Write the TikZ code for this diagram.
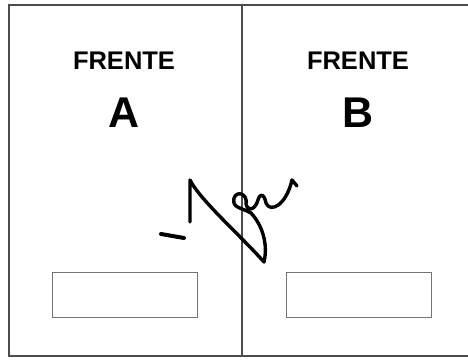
\documentclass[tikz,border=0pt]{standalone}
\usepackage{fontspec}
\setmainfont{Liberation Sans}
\begin{document}
\begin{tikzpicture}[x=1pt,y=-1pt,
  frame/.style={draw=black!70,line width=2.6pt},
  divider/.style={draw=black!70,line width=1.8pt},
  slot/.style={draw=black!55,line width=1.7pt},
  head/.style={font=\bfseries\fontsize{25.5}{25.5}\selectfont,inner sep=0pt,anchor=base},
  letter/.style={font=\bfseries\fontsize{43}{43}\selectfont,inner sep=0pt,anchor=base},
  sig/.style={draw=black,line width=3.4pt,line cap=round,line join=round}]
\useasboundingbox (0,0) rectangle (468,361);
\fill[white] (0,0) rectangle (468,361);
% outer frame (right side cropped)
\coordinate (tl) at (9,5);
\coordinate (tr) at (470,5);
\coordinate (bl) at (9,356);
\coordinate (br) at (470,356);
\draw[frame] (tr) -- (tl) -- (bl) -- (br);
\coordinate (mt) at (242,5);
\coordinate (mb) at (242,356);
\draw[divider] (mt) -- (mb);
% labels
\node[head] (fa) at (124,70) {FRENTE};
\node[letter] (la) at (124,127) {A};
\node[head] (fb) at (358,70) {FRENTE};
\node[letter] (lb) at (358,127) {B};
% slots
\node[slot,minimum width=145pt,minimum height=45pt,inner sep=0pt] (sa) at (125,295) {};
\node[slot,minimum width=145pt,minimum height=45pt,inner sep=0pt] (sb) at (359,295) {};
% signature
\draw[sig,line width=4pt] (161,234) -- (184,238);
\draw[sig] (190,222) -- (190,180) .. controls (200,200) and (240,235) .. (264,262)
  .. controls (268,245) and (263,226) .. (251,213)
  .. controls (240,207) and (232,208) .. (234,198)
  .. controls (237,190) and (248,194) .. (246,204)
  .. controls (248,212) and (255,210) .. (258,200)
  .. controls (260,193) and (264,193) .. (266,203)
  .. controls (270,213) and (286,206) .. (292,180) -- (297,186);
\end{tikzpicture}
\end{document}
